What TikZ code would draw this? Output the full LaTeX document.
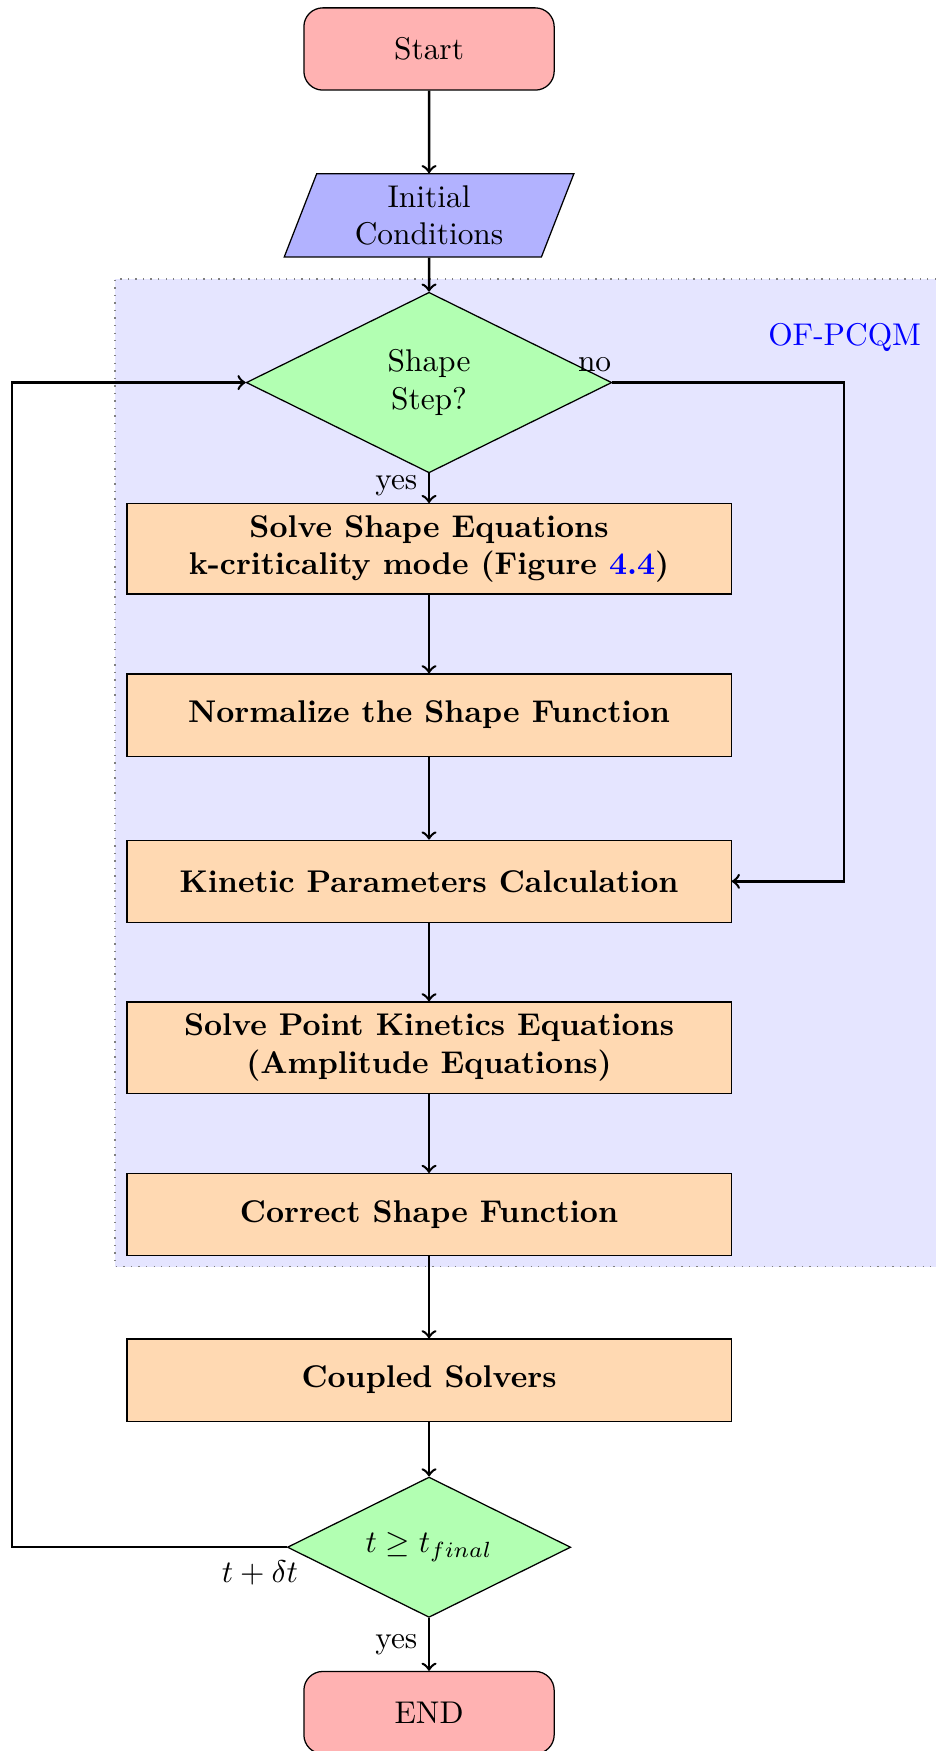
\documentclass[tikz,border=0pt]{standalone}
\usepackage{amsmath,amssymb}
\usepackage{tikz}
\usepackage{xcolor}
\usetikzlibrary{shapes.geometric}

\begin{document}
\begin{tikzpicture}[x=1cm,y=1cm,
  startstop/.style={rectangle, rounded corners=6pt, draw, fill=red!30, minimum width=2.8cm, minimum height=0.92cm},
  inout/.style={trapezium, trapezium left angle=64, trapezium right angle=116, trapezium stretches body, draw, fill=blue!30, minimum width=3.24cm, minimum height=0.93cm, align=center, inner sep=1pt},
  decision/.style={diamond, aspect=2, draw, fill=green!30, align=center, inner sep=0pt},
  process/.style={rectangle, draw, fill=orange!30, minimum width=6.76cm, minimum height=0.92cm, align=center, font=\bfseries},
  arrow/.style={thick,->}]
\useasboundingbox (0,0) rectangle (10.47,-19.59);
% OF-PCQM region
\fill[blue!10] (1.286,-3.12) rectangle (10.47,-14.17);
\draw[gray, dotted] (10.47,-3.12) -- (1.286,-3.12) -- (1.286,-14.17) -- (10.47,-14.17);
\node[blue] (ofpcqm) at (9.45,-3.77) {OF-PCQM};

\node[startstop] (start) at (4.8,-0.548) {Start};
\node[inout] (init) at (4.8,-2.41) {Initial\\Conditions};
\node[decision, minimum width=4.09cm, minimum height=2.02cm] (shape) at (4.8,-4.28) {Shape\\Step?};
\node[process, minimum height=1.01cm] (solve) at (4.8,-6.14) {Solve Shape Equations\\k-criticality mode (Figure {\color{blue}4.4})};
\node[process] (norm) at (4.8,-8.0) {Normalize the Shape Function};
\node[process] (kin) at (4.8,-9.86) {Kinetic Parameters Calculation};
\node[process, minimum height=1.02cm] (pk) at (4.8,-11.72) {Solve Point Kinetics Equations\\(Amplitude Equations)};
\node[process] (correct) at (4.8,-13.59) {Correct Shape Function};
\node[process] (coupled) at (4.8,-15.44) {Coupled Solvers};
\node[decision, minimum width=3.17cm, minimum height=1.57cm] (check) at (4.8,-17.31) {$t \geq t_{final}$};
\node[startstop] (finish) at (4.8,-19.16) {END};

\coordinate (rightturn) at (9.44,-4.28);
\coordinate (leftturn) at (0.134,-17.31);

\draw[arrow] (start) -- (init);
\draw[arrow] (init) -- (shape);
\draw[arrow] (shape) -- node[pos=0.4, left] {yes} (solve);
\draw[arrow] (solve) -- (norm);
\draw[arrow] (norm) -- (kin);
\draw[arrow] (kin) -- (pk);
\draw[arrow] (pk) -- (correct);
\draw[arrow] (correct) -- (coupled);
\draw[arrow] (coupled) -- (check);
\draw[arrow] (check) -- node[left] {yes} (finish);
\draw[arrow] (shape.east) node[above left, inner sep=1pt, xshift=1pt, yshift=2pt] {no} -- (rightturn) |- (kin.east);
\draw[arrow] (check.west) node[below left, inner sep=1pt, xshift=5pt, yshift=-3pt] {$t+\delta t$} -- (leftturn) |- (shape.west);
\end{tikzpicture}
\end{document}
